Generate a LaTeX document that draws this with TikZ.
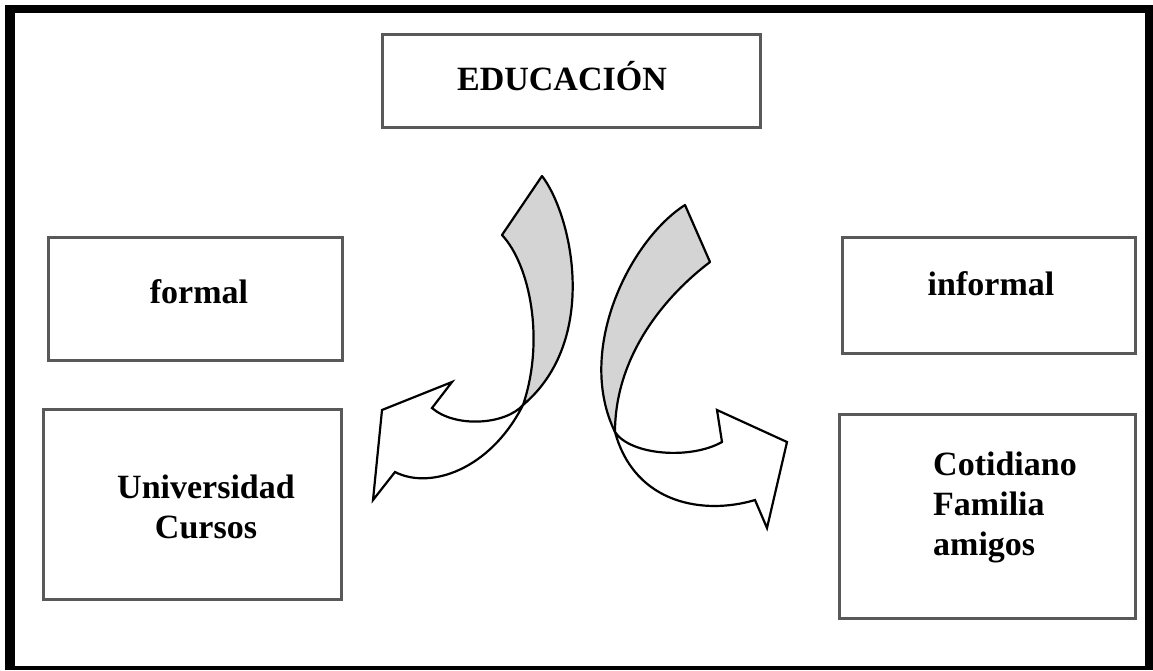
\documentclass[tikz,border=0pt]{standalone}
\usepackage{fontspec}
\setmainfont{Liberation Serif}
\usetikzlibrary{positioning}

\begin{document}
\begin{tikzpicture}[
	x=1pt, y=-1pt,
	box/.style={draw=black!65, line width=3pt, inner sep=0pt},
	txt/.style={font=\fontsize{34}{40}\selectfont\bfseries, inner sep=0pt},
	band/.style={draw=black, line width=2.2pt, fill=black!17, line join=round},
	shaft/.style={draw=black, line width=2.2pt, fill=white, line join=miter}
]
\useasboundingbox (0,0) rectangle (1153,670);

% Frame
\fill[black] (5,5) rectangle (1153,670);
\fill[white] (15,13) rectangle (1145,666);

% Top
\node [box, minimum width=378, minimum height=93] (educ) at (571,80.5) {};
\node [txt, anchor=base] (educT) at (562,90) {EDUCACIÓN};

% Formal
\node [box, minimum width=294, minimum height=123] (formal) at (195,298.5) {};
\node [txt, anchor=base] (formalT) at (199,303) {formal};
\node [box, minimum width=298, minimum height=190] (univ) at (192,504) {};
\node [txt, anchor=north, align=center] (univT) at (206,475) {Universidad\\Cursos};

% Informal
\node [box, minimum width=293, minimum height=116] (inform) at (988.5,295) {};
\node [txt, anchor=base] (informT) at (991,295) {informal};
\node [box, minimum width=296, minimum height=204] (cotid) at (987,516) {};
\node [txt, anchor=north west, align=left] (cotidT) at (933,452) {Cotidiano\\Familia\\amigos};

% Left arrow
\draw[band] (502,235) -- (542,176) .. controls (572,215) and (600,340) .. (523,405)
	.. controls (545,340) and (530,265) .. cycle;
\draw[shaft] (523,405) .. controls (505,425) and (455,428) .. (432,408) -- (452,382)
	-- (382,410) -- (373,500) -- (395,472) .. controls (430,490) and (490,470) .. cycle;

% Right arrow
\draw[band] (685,205) -- (710,262) .. controls (660,300) and (615,360) .. (615,432)
	.. controls (575,350) and (630,240) .. cycle;
\draw[shaft] (615,432) .. controls (630,455) and (690,460) .. (722,442) -- (717,410)
	-- (787,442) -- (767,528) -- (755,500) .. controls (705,515) and (635,505) .. cycle;
\end{tikzpicture}
\end{document}
